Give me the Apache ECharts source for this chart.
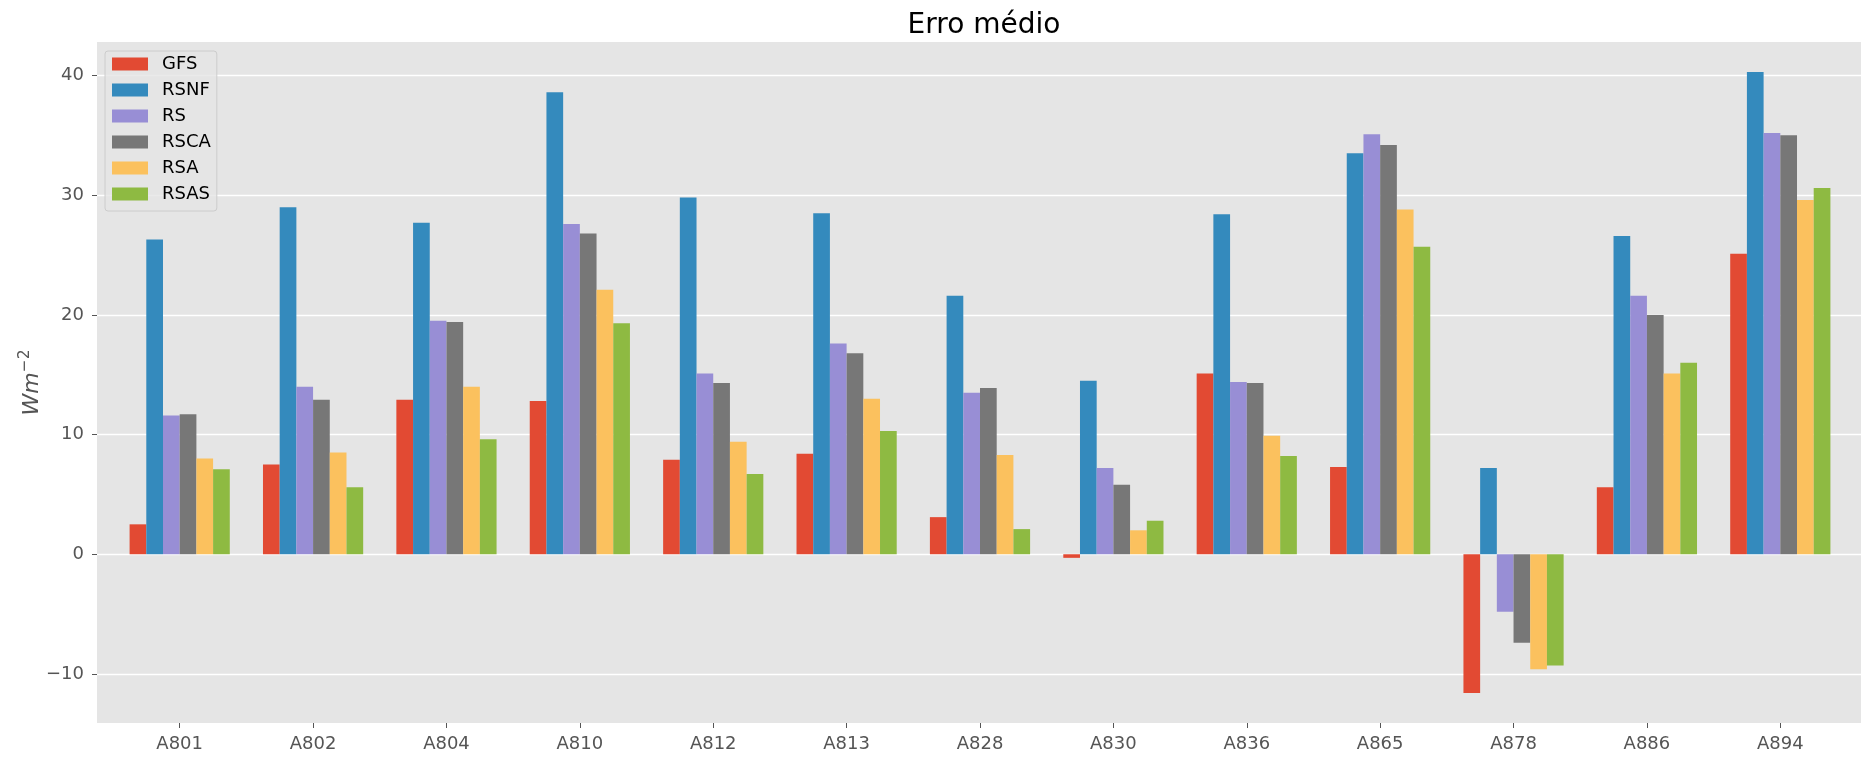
<!DOCTYPE html>
<html>
<head>
<meta charset="utf-8">
<script src="https://cdn.jsdelivr.net/npm/echarts@6/dist/echarts.min.js"></script>
<style>
  html, body { margin: 0; padding: 0; background: #ffffff; }
  #chart { width: 1861px; height: 759px; }
</style>
</head>
<body>
<div id="chart"></div>
<script>
// Stations on the x axis
const stations = ['A801', 'A802', 'A804', 'A810', 'A812', 'A813', 'A828', 'A830', 'A836', 'A865', 'A878', 'A886', 'A894'];

// Mean error per model (W m^-2)
const gfs  = [2.5, 7.5, 12.9, 12.8, 7.9, 8.4, 3.1, -0.3, 15.1, 7.3, -11.6, 5.6, 25.1];
const rsnf = [26.3, 29.0, 27.7, 38.6, 29.8, 28.5, 21.6, 14.5, 28.4, 33.5, 7.2, 26.6, 40.3];
const rs   = [11.6, 14.0, 19.5, 27.6, 15.1, 17.6, 13.5, 7.2, 14.4, 35.1, -4.8, 21.6, 35.2];
const rsca = [11.7, 12.9, 19.4, 26.8, 14.3, 16.8, 13.9, 5.8, 14.3, 34.2, -7.4, 20.0, 35.0];
const rsa  = [8.0, 8.5, 14.0, 22.1, 9.4, 13.0, 8.3, 2.0, 9.9, 28.8, -9.6, 15.1, 29.6];
const rsas = [7.1, 5.6, 9.6, 19.3, 6.7, 10.3, 2.1, 2.8, 8.2, 25.7, -9.3, 16.0, 30.6];

const seriesNames = ['GFS', 'RSNF', 'RS', 'RSCA', 'RSA', 'RSAS'];
const seriesValues = [gfs, rsnf, rs, rsca, rsa, rsas];
const yTicks = [-10, 0, 10, 20, 30, 40];

const palette = ['#E24A33', '#348ABD', '#988ED5', '#777777', '#FBC15E', '#8EBA42'];
const FONT = 'DejaVu Sans';
const Y_MIN = -14.1, Y_MAX = 42.8;

const chart = echarts.init(document.getElementById('chart'), null, { renderer: 'canvas' });

const option = {
  animation: false,
  textStyle: { fontFamily: FONT },
  title: {
    text: 'Erro médio',
    left: 979,
    textAlign: 'center',
    top: 7,
    textStyle: { fontFamily: FONT, fontSize: 28, fontWeight: 'normal', color: '#000000' }
  },
  legend: {
    orient: 'vertical',
    left: 105,
    top: 51,
    padding: [4, 6, 8, 7],
    itemWidth: 36,
    itemHeight: 13,
    itemGap: 8,
    icon: 'rect',
    backgroundColor: 'rgba(229,229,229,0.8)',
    borderColor: '#cccccc',
    borderWidth: 1,
    borderRadius: 3,
    textStyle: { fontFamily: FONT, fontSize: 18, color: '#000000', lineHeight: 18, padding: [0, 0, 0, 9] },
    data: seriesNames
  },
  grid: [
    // panel with background, y scale and gridlines
    { left: 97, right: 0, top: 42, bottom: 36, show: true, backgroundColor: '#e5e5e5', borderWidth: 0 },
    // bar panel, inset so category centres sit on the station ticks
    { left: 113, right: 14, top: 42, bottom: 36 }
  ],
  xAxis: [
    { gridIndex: 0, type: 'value', min: 0, max: 1, show: false },
    {
      gridIndex: 1,
      type: 'category',
      data: stations,
      axisLine: { show: false, onZero: false },
      axisTick: { show: true, alignWithLabel: true, length: 5, lineStyle: { color: '#555555', width: 1 } },
      axisLabel: { color: '#555555', fontFamily: FONT, fontSize: 18, margin: 12 },
      splitLine: { show: false }
    }
  ],
  yAxis: [
    {
      gridIndex: 0,
      type: 'value',
      min: Y_MIN,
      max: Y_MAX,
      axisLine: { show: false },
      axisTick: { show: true, length: 5, customValues: yTicks, lineStyle: { color: '#555555', width: 1 } },
      axisLabel: {
        customValues: yTicks,
        color: '#555555',
        fontFamily: FONT,
        fontSize: 18,
        margin: 13,
        formatter: v => String(v).replace('-', '\u2212')
      },
      splitLine: { show: true, lineStyle: { color: '#ffffff', width: 1.3 } },
      name: '{i|Wm}{s|\u22122}',
      nameLocation: 'middle',
      nameRotate: 90,
      nameGap: 54,
      nameMoveOverlap: false,
      nameTextStyle: {
        fontSize: 22,
        rich: {
          i: { fontFamily: FONT, fontStyle: 'italic', fontSize: 22, color: '#555555', lineHeight: 26, verticalAlign: 'bottom' },
          s: { fontFamily: FONT, fontSize: 15.5, color: '#555555', lineHeight: 26, verticalAlign: 'top' }
        }
      }
    },
    { gridIndex: 1, type: 'value', min: Y_MIN, max: Y_MAX, show: false }
  ],
  series: seriesNames.map((name, i) => ({
    name,
    type: 'bar',
    xAxisIndex: 1,
    yAxisIndex: 1,
    data: seriesValues[i],
    barWidth: 16.7,
    barGap: '0%',
    itemStyle: { color: palette[i] },
    emphasis: { disabled: true }
  }))
};

chart.setOption(option);
</script>
</body>
</html>
